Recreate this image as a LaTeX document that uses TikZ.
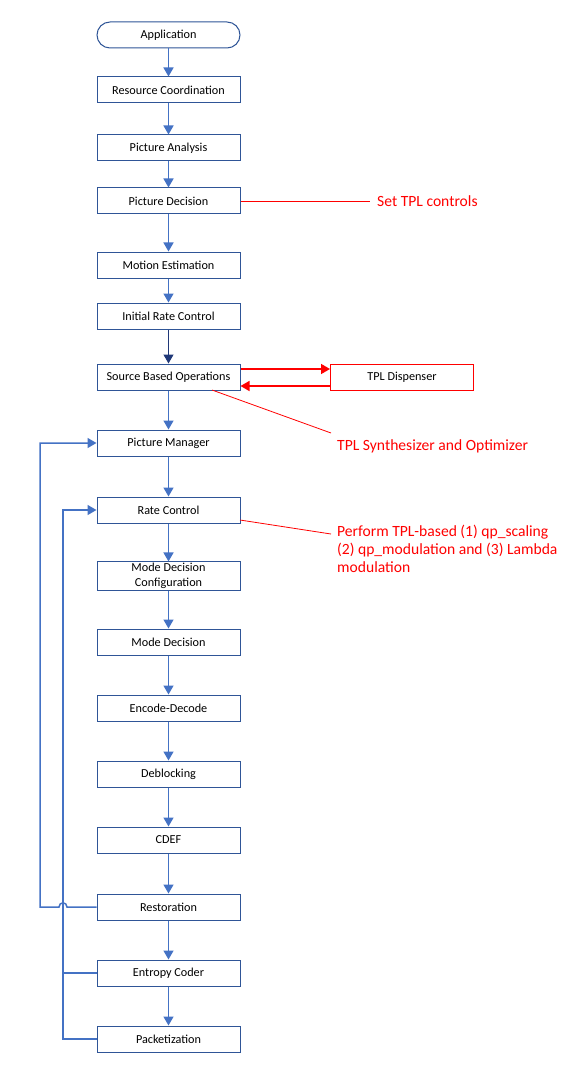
\documentclass[tikz,border=0pt]{standalone}
\usepackage{fontspec}
\setmainfont{Carlito}
\usetikzlibrary{arrows.meta}
\definecolor{bstroke}{HTML}{2F5597}
\definecolor{barrow}{HTML}{4472C4}
\definecolor{navy}{HTML}{203878}
\definecolor{tred}{HTML}{FF0000}
\tikzset{
  box/.style={draw=bstroke, line width=1pt, fill=white, minimum width=143pt, minimum height=26pt, inner sep=1pt, font=\fontsize{12.2}{14.5}\selectfont, align=center},
  arr/.style={draw=barrow, line width=1.5pt, -{Triangle[width=10pt,length=9pt]}},
  lnk/.style={draw=barrow, line width=1.5pt},
  redln/.style={draw=tred, line width=0.8pt},
  redarr/.style={draw=tred, line width=1.5pt, -{Triangle[width=10pt,length=9pt]}},
  redtxt/.style={text=tred, font=\fontsize{15.6}{18}\selectfont, inner sep=0pt, align=left}
}
\begin{document}
\begin{tikzpicture}[x=1pt,y=-1pt]
\useasboundingbox (0,0) rectangle (575,1067);
\node[box, rounded corners=13pt] (app) at (168.5,35) {Application};
\node[box] (rc0) at (168.5,90) {Resource Coordination};
\node[box] (pa) at (168.5,148) {Picture Analysis};
\node[box] (pd) at (168.5,201) {Picture Decision};
\node[box] (me) at (168.5,265) {Motion Estimation};
\node[box] (irc) at (168.5,316) {Initial Rate Control};
\node[box] (sbo) at (168.5,377) {Source Based Operations};
\node[box] (pm) at (168.5,443) {Picture Manager};
\node[box] (rc) at (168.5,510) {Rate Control};
\node[box, font=\fontsize{12.2}{15.5}\selectfont] (mdc) at (168.5,576) {Mode Decision\\Configuration};
\node[box] (md) at (168.5,642) {Mode Decision};
\node[box] (ed) at (168.5,708) {Encode-Decode};
\node[box] (db) at (168.5,774) {Deblocking};
\node[box] (cdef) at (168.5,840) {CDEF};
\node[box] (rest) at (168.5,907) {Restoration};
\node[box] (ent) at (168.5,973) {Entropy Coder};
\node[box] (pack) at (168.5,1039) {Packetization};
\node[box, draw=tred] (disp) at (402,377) {TPL Dispenser};

\draw[arr] (app) -- (rc0);
\draw[arr] (rc0) -- (pa);
\draw[arr] (pa) -- (pd);
\draw[arr] (pd) -- (me);
\draw[arr] (me) -- (irc);
\draw[arr, draw=navy, line width=1.2pt] (irc) -- (sbo);
\draw[arr] (sbo) -- (pm);
\draw[arr] (pm) -- (rc);
\draw[arr] (rc) -- (mdc);
\draw[arr] (mdc) -- (md);
\draw[arr] (md) -- (ed);
\draw[arr] (ed) -- (db);
\draw[arr] (db) -- (cdef);
\draw[arr] (cdef) -- (rest);
\draw[arr] (rest) -- (ent);
\draw[arr] (ent) -- (pack);

% feedback loops
\draw[arr] (rest.west) -- (67,907) .. controls (67,901.5) and (59,901.5) .. (59,907) -- (40,907) |- (pm.west);
\draw[arr] (pack.west) -- (63,1039) |- (rc.west);
\draw[lnk] (ent.west) -- (63,973);

% TPL dispenser arrows
\draw[redarr] ([yshift=8pt]sbo.east) -- ([yshift=8pt]disp.west);
\draw[redarr] ([yshift=-9pt]disp.west) -- ([yshift=-9pt]sbo.east);

% red annotations
\node[redtxt, anchor=west] (stc) at (377,201) {Set TPL controls};
\draw[redln] (pd.east) -- (370,201);
\node[redtxt, anchor=west] (syn) at (337,446) {TPL Synthesizer and Optimizer};
\coordinate (synend) at (331,433);
\draw[redln] (212,390) -- (synend);
\node[redtxt, anchor=north west] (perf) at (337,525) {Perform TPL-based (1) qp\_scaling\\(2) qp\_modulation and (3) Lambda\\modulation};
\coordinate (perfend) at (331,534);
\draw[redln] (240,520) -- (perfend);
\end{tikzpicture}
\end{document}
